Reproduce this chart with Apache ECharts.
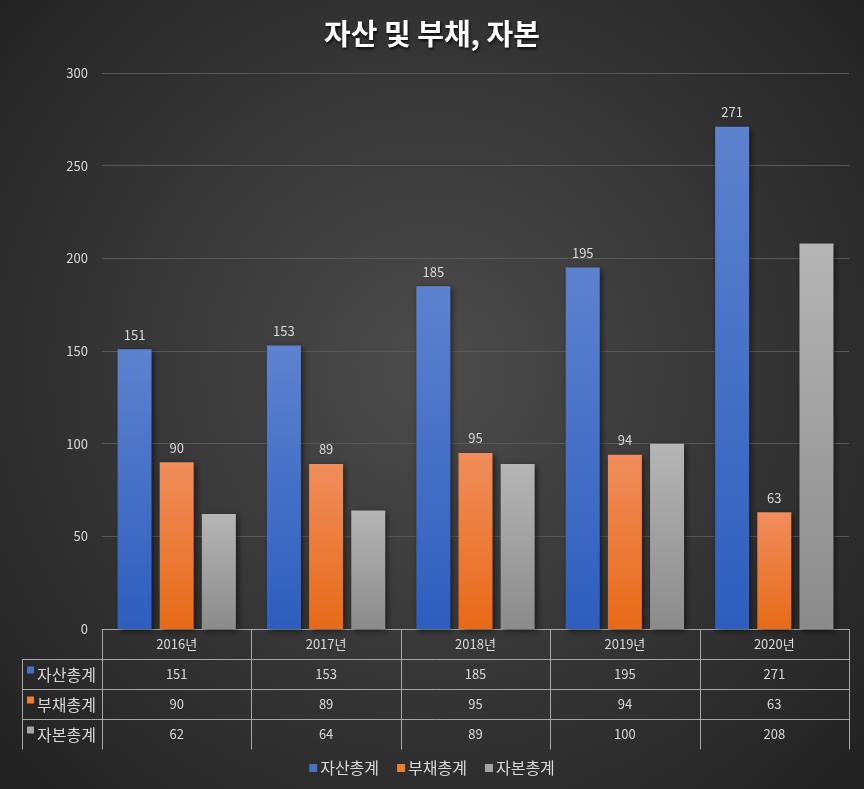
<!DOCTYPE html>
<html>
<head>
<meta charset="utf-8">
<script src="https://cdn.jsdelivr.net/npm/echarts@6/dist/echarts.min.js"></script>
<style>
html,body{margin:0;padding:0;background:#2b2b2b;}
#chart{width:864px;height:789px;}
</style>
</head>
<body>
<div id="chart"></div>
<script>
var years = ['2016년', '2017년', '2018년', '2019년', '2020년'];
var seriesNames = ['자산총계', '부채총계', '자본총계'];
var assets = [151, 153, 185, 195, 271];
var liabilities = [90, 89, 95, 94, 63];
var equity = [62, 64, 89, 100, 208];
var yMin = 0, yMax = 300, yStep = 50;

var font = '"Noto Sans CJK KR", "Noto Sans", sans-serif';
var textColor = '#d9d9d9';
var lineColor = '#a6a6a6';
var swatch = ['#4472c4', '#ed7d31', '#a5a5a5'];

function grad(c1, c2) {
    return new echarts.graphic.LinearGradient(0, 0, 0, 1, [
        {offset: 0, color: c1},
        {offset: 1, color: c2}
    ]);
}
var fills = [
    grad('#5d82cf', '#2d5ebf'),
    grad('#f08d5c', '#e86a17'),
    grad('#b5b5b5', '#8b8b8b')
];

var myChart = echarts.init(document.getElementById('chart'));

function makeSeries(i, data) {
    return {
        name: seriesNames[i],
        type: 'bar',
        data: data,
        barWidth: 34,
        barGap: '24%',
        itemStyle: {
            color: fills[i],
            shadowColor: 'rgba(0,0,0,0.55)',
            shadowBlur: 6,
            shadowOffsetX: 2,
            shadowOffsetY: 2
        },
        label: {
            show: i < 2,
            position: 'top',
            distance: 8,
            color: textColor,
            fontSize: 13,
            fontFamily: font
        }
    };
}

var option = {
    backgroundColor: new echarts.graphic.RadialGradient(0.5, 0.47, 0.72, [
        {offset: 0, color: '#4c4c4c'},
        {offset: 1, color: '#232323'}
    ]),
    title: {
        text: '자산 및 부채, 자본',
        left: 'center',
        top: 14,
        textStyle: {
            color: '#ffffff',
            fontSize: 29,
            fontWeight: 'bold',
            fontFamily: font,
            textShadowColor: 'rgba(0,0,0,0.8)',
            textShadowBlur: 3,
            textShadowOffsetX: 1,
            textShadowOffsetY: 2
        }
    },
    legend: {
        data: seriesNames.map(function (n, i) {
            return {name: n, itemStyle: {color: swatch[i]}};
        }),
        top: 755,
        left: 'center',
        icon: 'rect',
        itemWidth: 8,
        itemHeight: 8,
        itemGap: 18,
        textStyle: {color: textColor, fontSize: 16, fontFamily: font, padding: [0, 0, 0, -2]}
    },
    grid: {left: 102, right: 15, top: 73, bottom: 160},
    xAxis: {
        type: 'category',
        data: years,
        axisLine: {show: true, lineStyle: {color: lineColor, width: 1}},
        axisTick: {show: false},
        axisLabel: {color: textColor, fontSize: 13, fontFamily: font, margin: 9}
    },
    yAxis: {
        type: 'value',
        min: yMin,
        max: yMax,
        interval: yStep,
        axisLine: {show: false},
        axisTick: {show: false},
        axisLabel: {color: textColor, fontSize: 13, fontFamily: font, margin: 14},
        splitLine: {lineStyle: {color: '#585858', width: 1}}
    },
    series: [
        makeSeries(0, assets),
        makeSeries(1, liabilities),
        makeSeries(2, equity)
    ]
};

myChart.setOption(option);

// data table under the axis
function buildTable() {
    var rows = [assets, liabilities, equity];
    var centers = years.map(function (y, i) {
        return myChart.convertToPixel({xAxisIndex: 0}, i);
    });
    var step = centers[1] - centers[0];
    var left = centers[0] - step / 2;
    var right = centers[centers.length - 1] + step / 2;
    var tableTop = Math.round(myChart.convertToPixel({yAxisIndex: 0}, 0)) + 0.5;
    var rowH = 30;
    var labelLeft = 22.5;
    var g = [];
    var ls = {stroke: lineColor, lineWidth: 1};
    var r, c;

    g.push({type: 'line', shape: {x1: left, y1: tableTop, x2: right, y2: tableTop}, style: ls, silent: true});
    for (r = 1; r <= rows.length; r++) {
        g.push({type: 'line', shape: {x1: labelLeft, y1: tableTop + rowH * r, x2: right, y2: tableTop + rowH * r}, style: ls, silent: true});
    }
    var tableBottom = tableTop + rowH * (rows.length + 1);
    g.push({type: 'line', shape: {x1: labelLeft, y1: tableTop + rowH, x2: labelLeft, y2: tableBottom}, style: ls, silent: true});
    for (c = 0; c <= years.length; c++) {
        var xc = Math.round(left + step * c) + 0.5;
        g.push({type: 'line', shape: {x1: xc, y1: tableTop, x2: xc, y2: tableBottom}, style: ls, silent: true});
    }
    for (r = 0; r < rows.length; r++) {
        var yMid = tableTop + rowH * (r + 1) + rowH / 2;
        g.push({type: 'rect', shape: {x: 27, y: yMid - 8, width: 7, height: 7}, style: {fill: swatch[r]}, silent: true});
        g.push({type: 'text', x: 37, y: yMid, style: {text: seriesNames[r], fill: textColor, font: '16px ' + font, verticalAlign: 'middle'}, silent: true});
        for (c = 0; c < years.length; c++) {
            g.push({type: 'text', x: centers[c], y: yMid, style: {text: String(rows[r][c]), fill: textColor, font: '13px ' + font, align: 'center', verticalAlign: 'middle'}, silent: true});
        }
    }
    myChart.setOption({graphic: g});
}
buildTable();
</script>
</body>
</html>
